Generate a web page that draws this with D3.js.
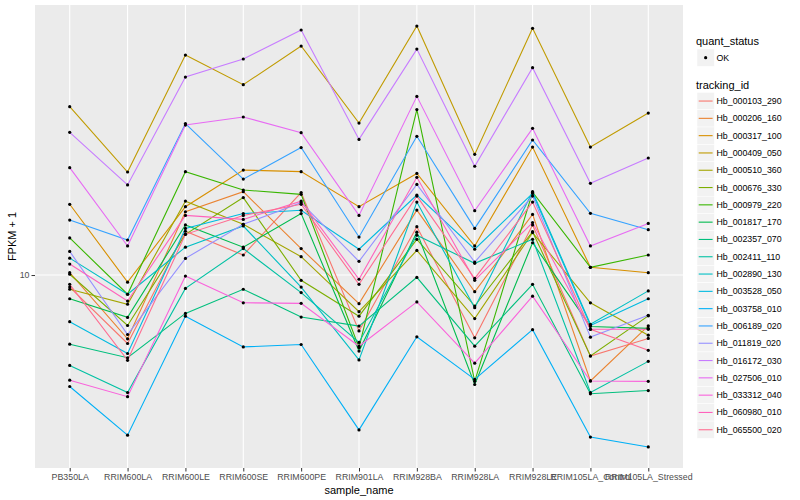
<!DOCTYPE html>
<html><head><meta charset="utf-8">
<script src="https://cdn.jsdelivr.net/npm/d3@7"></script>
<style>
body{margin:0;background:#fff}
svg{display:block}
text{font-family:"Liberation Sans",Arial,Helvetica,sans-serif}
</style>
</head><body>
<svg id="chart" width="800" height="500"></svg>
<script>
// ---------- data ----------
const sampleNames = ["PB350LA","RRIM600LA","RRIM600LE","RRIM600SE","RRIM600PE","RRIM901LA","RRIM928BA","RRIM928LA","RRIM928LE","RRIM105LA_Control","RRIM105LA_Stressed"];
const trackingIds = ["Hb_000103_290","Hb_000206_160","Hb_000317_100","Hb_000409_050","Hb_000510_360","Hb_000676_330","Hb_000979_220","Hb_001817_170","Hb_002357_070","Hb_002411_110","Hb_002890_130","Hb_003528_050","Hb_003758_010","Hb_006189_020","Hb_011819_020","Hb_016172_030","Hb_027506_010","Hb_033312_040","Hb_060980_010","Hb_065500_020"];
const quantStatus = ["OK"];
const yTickValues = [10];

const Hb_000103_290 = [9.55, 7.69, 11.83, 10.80, 13.72, 8.07, 12.04, 7.86, 12.12, 7.33, 7.84];
const Hb_000206_160 = [10.09, 7.83, 12.75, 13.77, 11.07, 8.96, 12.83, 9.38, 12.62, 6.66, 8.23];
const Hb_000317_100 = [13.12, 9.73, 13.00, 14.96, 14.87, 13.00, 14.77, 11.18, 16.34, 10.30, 10.09];
const Hb_000409_050 = [19.08, 14.85, 23.26, 20.76, 24.08, 17.92, 26.00, 15.89, 25.77, 16.34, 18.62];
const Hb_000510_360 = [9.47, 8.94, 13.28, 12.15, 10.73, 8.69, 10.99, 8.46, 11.77, 8.99, 7.94];
const Hb_000676_330 = [10.03, 8.24, 11.69, 13.46, 9.80, 8.54, 11.47, 8.88, 11.81, 7.33, 8.55];
const Hb_000979_220 = [11.53, 9.29, 14.87, 13.86, 13.63, 7.57, 18.87, 6.65, 13.74, 10.30, 10.80];
const Hb_001817_170 = [9.13, 8.50, 12.12, 11.13, 12.66, 7.47, 11.79, 6.57, 11.32, 8.21, 8.15];
const Hb_002357_070 = [7.67, 7.28, 8.63, 9.47, 8.51, 8.22, 9.91, 7.61, 9.65, 6.34, 6.42];
const Hb_002411_110 = [7.07, 6.37, 9.50, 11.07, 9.35, 7.72, 11.65, 10.46, 11.47, 6.37, 7.18];
const Hb_002890_130 = [10.67, 9.29, 11.13, 12.07, 9.55, 7.22, 13.23, 8.82, 13.77, 8.28, 9.41];
const Hb_003528_050 = [8.36, 7.40, 11.96, 12.66, 12.82, 11.04, 13.59, 11.04, 13.68, 8.24, 9.13];
const Hb_003758_010 = [6.52, 5.41, 8.54, 7.59, 7.66, 5.52, 7.89, 6.70, 8.11, 5.37, 5.17];
const Hb_006189_020 = [12.35, 11.44, 17.88, 14.45, 16.31, 11.57, 17.03, 11.96, 16.79, 12.67, 11.90];
const Hb_011819_020 = [10.95, 7.96, 10.66, 12.15, 13.20, 10.54, 14.16, 10.51, 13.54, 7.88, 8.57];
const Hb_016172_030 = [17.29, 14.13, 21.38, 22.91, 25.61, 16.83, 23.80, 15.18, 22.16, 14.22, 15.67];
const Hb_027506_010 = [15.10, 11.18, 17.78, 18.34, 17.27, 12.57, 19.85, 12.80, 17.56, 11.18, 12.19];
const Hb_033312_040 = [6.68, 6.27, 9.96, 8.99, 8.97, 7.61, 9.02, 7.13, 9.22, 6.66, 6.65];
const Hb_060980_010 = [10.43, 9.05, 12.57, 12.38, 13.28, 9.84, 14.55, 9.80, 12.23, 8.12, 8.12];
const Hb_065500_020 = [9.65, 7.21, 11.69, 12.57, 13.12, 9.65, 13.54, 9.87, 13.23, 8.12, 7.49];

const seriesValues = [Hb_000103_290, Hb_000206_160, Hb_000317_100, Hb_000409_050, Hb_000510_360,
  Hb_000676_330, Hb_000979_220, Hb_001817_170, Hb_002357_070, Hb_002411_110, Hb_002890_130,
  Hb_003528_050, Hb_003758_010, Hb_006189_020, Hb_011819_020, Hb_016172_030, Hb_027506_010,
  Hb_033312_040, Hb_060980_010, Hb_065500_020];

const palette = ["#F8766D","#EA8331","#D89000","#C09B00","#A3A500","#7CAE00","#39B600","#00BB4E","#00BF7D","#00C1A3","#00BFC4","#00BAE0","#00B0F6","#35A2FF","#9590FF","#C77CFF","#E76BF3","#FA62DB","#FF62BC","#FF6C91"];

// ---------- build table ----------
const series = trackingIds.map((id, i) => ({
  id, values: sampleNames.map((s, j) => ({sample: s, value: seriesValues[i][j], status: quantStatus[0]}))
}));

// ---------- layout ----------
const svg = d3.select("#chart");
const panel = {left: 35, right: 683, top: 5, bottom: 468};

const x = d3.scalePoint().domain(sampleNames).range([panel.left, panel.right]).padding(0.6);
const allVals = seriesValues.flat();
const lo = Math.log10(d3.min(allVals)), hi = Math.log10(d3.max(allVals));
const ex = (hi - lo) * 0.05;
const y = d3.scaleLog().domain([Math.pow(10, lo - ex), Math.pow(10, hi + ex)]).range([panel.bottom, panel.top]);
const color = d3.scaleOrdinal().domain(trackingIds).range(palette);

// panel background
svg.append("rect").attr("x", panel.left).attr("y", panel.top)
  .attr("width", panel.right - panel.left).attr("height", panel.bottom - panel.top)
  .attr("fill", "#EBEBEB");

// grid
const grid = svg.append("g");
grid.selectAll("line.v").data(sampleNames).join("line")
  .attr("x1", d => x(d)).attr("x2", d => x(d))
  .attr("y1", panel.top).attr("y2", panel.bottom)
  .attr("stroke", "#fff").attr("stroke-width", 1.1);
grid.selectAll("line.h").data(yTickValues).join("line")
  .attr("x1", panel.left).attr("x2", panel.right)
  .attr("y1", d => y(d)).attr("y2", d => y(d))
  .attr("stroke", "#fff").attr("stroke-width", 1.1);

// axes
const xAxis = svg.append("g").attr("transform", `translate(0,${panel.bottom})`)
  .call(d3.axisBottom(x).tickSize(3.5).tickPadding(2));
const yAxis = svg.append("g").attr("transform", `translate(${panel.left},0)`)
  .call(d3.axisLeft(y).tickValues(yTickValues).tickFormat(d3.format("d")).tickSize(3.5).tickPadding(2));
[xAxis, yAxis].forEach(a => {
  a.select(".domain").remove();
  a.selectAll(".tick line").attr("stroke", "#333333").attr("stroke-width", 1);
  a.selectAll(".tick text").attr("fill", "#4D4D4D").style("font-size", "8.8px")
    .style("font-family", '"Liberation Sans",Arial,sans-serif');
});

// lines
const line = d3.line().x(d => x(d.sample)).y(d => y(d.value));
svg.append("g").selectAll("path").data(series).join("path")
  .attr("d", d => line(d.values))
  .attr("fill", "none").attr("stroke", d => color(d.id)).attr("stroke-width", 1.1);

// points
svg.append("g").selectAll("circle").data(series.flatMap(s => s.values)).join("circle")
  .attr("cx", d => x(d.sample)).attr("cy", d => y(d.value)).attr("r", 1.6).attr("fill", "#000");

// axis titles
svg.append("text").attr("x", (panel.left + panel.right) / 2).attr("y", 494)
  .attr("text-anchor", "middle").style("font-size", "11px").attr("fill", "#000").text("sample_name");
svg.append("text").attr("transform", `translate(16,${(panel.top + panel.bottom) / 2}) rotate(-90)`)
  .attr("text-anchor", "middle").style("font-size", "11px").attr("fill", "#000").text("FPKM + 1");

// legends
const lg = svg.append("g");
const keyX = 697, keyS = 17.3;
lg.append("text").attr("x", 696).attr("y", 44.5).style("font-size", "11px").text("quant_status");
lg.selectAll("rect.q").data(quantStatus).join("rect")
  .attr("x", keyX).attr("y", (d, i) => 49 + i * keyS).attr("width", keyS).attr("height", keyS)
  .attr("fill", "#F2F2F2").attr("stroke", "#fff").attr("stroke-width", 0.5);
lg.selectAll("circle.q").data(quantStatus).join("circle")
  .attr("cx", keyX + keyS / 2).attr("cy", (d, i) => 49 + i * keyS + keyS / 2).attr("r", 1.6).attr("fill", "#000");
lg.selectAll("text.q").data(quantStatus).join("text")
  .attr("x", 716.5).attr("y", (d, i) => 49 + i * keyS + keyS / 2 + 3).style("font-size", "8.8px").text(d => d);

lg.append("text").attr("x", 696).attr("y", 89).style("font-size", "11px").text("tracking_id");
const rows = lg.selectAll("g.row").data(trackingIds).join("g")
  .attr("transform", (d, i) => `translate(${keyX},${92.4 + i * keyS})`);
rows.append("rect").attr("width", keyS).attr("height", keyS)
  .attr("fill", "#F2F2F2").attr("stroke", "#fff").attr("stroke-width", 0.5);
rows.append("line").attr("x1", 1.7).attr("x2", keyS - 1.7).attr("y1", keyS / 2).attr("y2", keyS / 2)
  .attr("stroke", d => color(d)).attr("stroke-width", 1.1);
rows.append("text").attr("x", 19.5).attr("y", keyS / 2 + 3).style("font-size", "8.8px").text(d => d);
</script>
</body></html>
